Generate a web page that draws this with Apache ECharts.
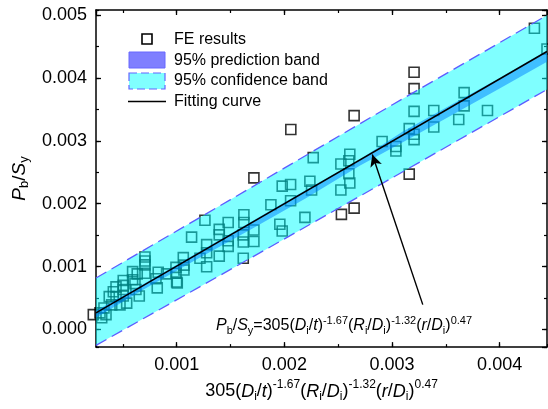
<!DOCTYPE html>
<html><head><meta charset="utf-8">
<script src="https://cdn.jsdelivr.net/npm/echarts@6/dist/echarts.min.js"></script>
<style>html,body{margin:0;padding:0;background:#fff}#c{width:548px;height:409px}</style>
</head><body><div id="c"></div>
<script>
// ---------- data ----------
const X_MIN = 0.00025, X_MAX = 0.00444;
const Y_MIN = -0.00028, Y_MAX = 0.00508;

const feX = [0.003205,0.003205,0.002648,0.00206,0.001717,0.00316,0.002648,0.00253,0.001262,0.001618,0.000225,0.004323,0.00444,
  0.00367,0.00367,0.003887,0.00362,0.003388,0.003388,0.003205,0.00316,0.003205,0.003205,0.002908,0.003036,0.003036,
  0.002268,0.002608,0.002599,0.002525,0.002599,0.002608,0.002525,0.002237,0.002253,0.002058,0.00198,0.002058,0.001875,
  0.002191,0.001958,0.00198,0.001717,0.001717,0.001624,0.001624,0.001478,0.001395,0.001395,0.001618,0.001618,0.001478,
  0.001478,0.001395,0.001278,0.001278,0.001216,0.001278,0.001138,0.001061,0.001067,0.001067,0.000993,0.000993,0.000999,
  0.000906,0.000828,0.000819,0.000705,0.000705,0.000705,0.000705,0.000633,0.00059,0.00059,0.000612,0.000621,0.000652,
  0.000503,0.000503,0.000503,0.000503,0.000436,0.000436,0.000411,0.000373,0.000396,0.000473,0.000535,0.000324,0.000287,
  0.000343,0.000303,0.000807,0.001005];
const feY = [0.00409,0.00383,0.0034,0.00318,0.00241,0.00247,0.00193,0.00183,0.001736,0.001132,0.000237,0.00479,0.00446,
  0.003767,0.003555,0.003483,0.00334,0.003483,0.00322,0.003468,0.003194,0.003105,0.003019,0.002988,0.00291,0.002837,
  0.002733,0.002786,0.002682,0.002631,0.002476,0.00233,0.002217,0.002357,0.002217,0.002305,0.002279,0.002047,0.001984,
  0.001783,0.001674,0.001566,0.001581,0.0014,0.001825,0.0017,0.0017,0.001592,0.001504,0.001504,0.00139,0.001411,
  0.001322,0.001167,0.001349,0.00122,0.001132,0.000997,0.001468,0.001142,0.001023,0.000946,0.000987,0.000894,0.000755,
  0.000884,0.00091,0.000662,0.00109,0.001152,0.001028,0.000894,0.000884,0.00092,0.000791,0.000729,0.000636,0.000532,
  0.00078,0.000702,0.000636,0.000532,0.000677,0.000522,0.0006,0.000522,0.000392,0.000392,0.000419,0.000341,0.000264,
  0.000237,0.000186,0.000806,0.00074];

const fitX = [0.00025, 0.00444];
const fitY = [0.000265, 0.00442];

const predX = [0.00025, 0.0015, 0.003, 0.00444];
const predLower = [-0.000252, 0.000955, 0.00241, 0.003816];
const predUpper = [0.000818, 0.002065, 0.00357, 0.004996];

const confX = [0.00025, 0.0007, 0.0012, 0.0017, 0.0022, 0.0027, 0.0031, 0.0035, 0.004, 0.00444];
const confLower = [0.000188, 0.000643, 0.001128, 0.001603, 0.002088, 0.002603, 0.002979, 0.003355, 0.00383, 0.004256];
const confUpper = [0.000298, 0.000733, 0.001228, 0.001723, 0.002218, 0.002703, 0.003149, 0.003525, 0.004, 0.004436];

const arrowFrom = [0.003286, 0.000395];
const arrowTo = [0.002817, 0.002783];

const legendNames = ['FE results', '95% prediction band', '95% confidence band', 'Fitting curve'];

// ---------- chart ----------
const F = '"Liberation Sans", Arial, Helvetica, sans-serif';
function richSet(size, sub) {
  return {
    n: {fontSize: size, fontFamily: F, color: '#000', lineHeight: size + 4},
    i: {fontSize: size, fontFamily: F, fontStyle: 'italic', color: '#000', lineHeight: size + 4},
    sub: {fontSize: sub, fontFamily: F, color: '#000', lineHeight: size + 4, padding: [Math.round(size * 0.55), 0, 0, 0]},
    sup: {fontSize: sub, fontFamily: F, color: '#000', lineHeight: size + 4, padding: [0, 0, Math.round(size * 0.7), 0]}
  };
}
const xName = '{n|305(}{i|D}{sub|i}{n|/}{i|t}{n|)}{sup|-1.67}{n|(}{i|R}{sub|i}{n|/}{i|D}{sub|i}{n|)}{sup|-1.32}{n|(}{i|r}{n|/}{i|D}{sub|i}{n|)}{sup|0.47}';
const eqText = '{i|P}{sub|b}{n|/}{i|S}{sub|y}{n|=305(}{i|D}{sub|i}{n|/}{i|t}{n|)}{sup|-1.67}{n|(}{i|R}{sub|i}{n|/}{i|D}{sub|i}{n|)}{sup|-1.32}{n|(}{i|r}{n|/}{i|D}{sub|i}{n|)}{sup|0.47}';
const yName = '{i|P}{sub|b}{n|/}{i|S}{sub|y}';

const chart = echarts.init(document.getElementById('c'), null, {renderer: 'canvas'});

function mainAxis(pos, labels, extra) {
  const isX = pos === 'bottom' || pos === 'top';
  return Object.assign({
    type: 'value', position: pos,
    min: isX ? X_MIN : Y_MIN, max: isX ? X_MAX : Y_MAX, splitNumber: 5,
    axisLine: {show: true, onZero: false, lineStyle: {color: '#000', width: 1.5}},
    axisTick: {show: true, inside: true, length: 5, lineStyle: {color: '#000', width: 1.3}},
    axisLabel: {show: labels, color: '#000', fontSize: 18, fontFamily: F, margin: 9,
      showMinLabel: false, showMaxLabel: false, formatter: v => v.toFixed(3)},
    splitLine: {show: false}
  }, extra || {});
}
function minorAxis(pos) {
  const isX = pos === 'bottom' || pos === 'top';
  return {
    type: 'value', position: pos,
    min: isX ? X_MIN : Y_MIN, max: isX ? X_MAX : Y_MAX, splitNumber: isX ? 9 : 11,
    axisLine: {show: false, onZero: false},
    axisTick: {show: true, inside: true, length: 3, lineStyle: {color: '#000', width: 1.2}},
    axisLabel: {show: false}, splitLine: {show: false}
  };
}

function bandSeries(xs, lo, hi, fill, stroke, z) {
  return {
    type: 'custom', xAxisIndex: 0, yAxisIndex: 0, z: z, silent: true, clip: false,
    data: [[xs[0], lo[0]]],
    renderItem: function (params, api) {
      const top = xs.map((x, i) => api.coord([x, hi[i]]));
      const bot = xs.map((x, i) => api.coord([x, lo[i]]));
      const children = [{type: 'polygon', shape: {points: top.concat(bot.slice().reverse())}, style: {fill: fill}}];
      if (stroke) {
        children.push({type: 'polyline', shape: {points: top}, style: {stroke: stroke, lineWidth: 1.3, lineDash: [12, 6], fill: null}});
        children.push({type: 'polyline', shape: {points: bot}, style: {stroke: stroke, lineWidth: 1.3, lineDash: [12, 6], fill: null}});
      }
      return {type: 'group', children: children};
    }
  };
}

const LX = 129, LT = 174;
chart.setOption({
  backgroundColor: '#fff',
  animation: false,
  grid: {left: 96, right: 1, top: 10, bottom: 54, containLabel: false},
  xAxis: [
    mainAxis('bottom', true, {name: xName, nameLocation: 'middle', nameGap: 32,
      nameTextStyle: {rich: richSet(18, 12)}}),
    minorAxis('bottom'),
    mainAxis('top', false),
    minorAxis('top')
  ],
  yAxis: [
    mainAxis('left', true, {name: yName, nameLocation: 'middle', nameGap: 54,
      nameTextStyle: {rich: richSet(19, 13)}}),
    minorAxis('left'),
    mainAxis('right', false),
    minorAxis('right')
  ],
  series: [
    {
      type: 'scatter', name: legendNames[0], xAxisIndex: 0, yAxisIndex: 0, z: 2, clip: false,
      symbol: 'rect', symbolSize: 10,
      itemStyle: {color: 'rgba(0,0,0,0)', borderColor: '#000', borderWidth: 1.6},
      data: feX.map((x, i) => [x, feY[i]])
    },
    bandSeries(confX, confLower, confUpper, 'rgba(0,0,255,0.5)', null, 3),
    bandSeries(predX, predLower, predUpper, 'rgba(0,255,255,0.5)', '#5c5cff', 4),
    {
      type: 'line', name: legendNames[3], xAxisIndex: 0, yAxisIndex: 0, z: 5,
      showSymbol: false, symbol: 'none',
      lineStyle: {color: '#000', width: 1.5},
      data: fitX.map((x, i) => [x, fitY[i]]),
      markLine: {
        silent: true, symbol: ['none', 'arrow'], symbolSize: [9, 12],
        lineStyle: {color: '#000', width: 1.4, type: 'solid'},
        label: {show: false},
        data: [[{coord: arrowFrom}, {coord: arrowTo}]]
      }
    }
  ],
  graphic: [
    {type: 'rect', shape: {x: 142, y: 34, width: 10, height: 10}, style: {fill: 'none', stroke: '#000', lineWidth: 1.6}},
    {type: 'rect', shape: {x: LX, y: 52, width: 36, height: 16}, style: {fill: '#7f7fff', stroke: '#6868ff', lineWidth: 1}},
    {type: 'rect', shape: {x: LX, y: 73, width: 36, height: 16}, style: {fill: '#80ffff', stroke: '#6464ff', lineWidth: 1.2, lineDash: [8, 4]}},
    {type: 'line', shape: {x1: LX - 1, y1: 101.5, x2: LX + 37, y2: 101.5}, style: {stroke: '#000', lineWidth: 1.5}},
    {type: 'text', x: LT, y: 40, style: {text: legendNames[0], fontSize: 16, fontFamily: F, fill: '#000', verticalAlign: 'middle'}},
    {type: 'text', x: LT, y: 61, style: {text: legendNames[1], fontSize: 16, fontFamily: F, fill: '#000', verticalAlign: 'middle'}},
    {type: 'text', x: LT, y: 81, style: {text: legendNames[2], fontSize: 16, fontFamily: F, fill: '#000', verticalAlign: 'middle'}},
    {type: 'text', x: LT, y: 101.5, style: {text: legendNames[3], fontSize: 16, fontFamily: F, fill: '#000', verticalAlign: 'middle'}},
    {type: 'text', x: 344, y: 326, style: {text: eqText, rich: richSet(16, 11), align: 'center', verticalAlign: 'middle'}}
  ]
});
</script></body></html>
